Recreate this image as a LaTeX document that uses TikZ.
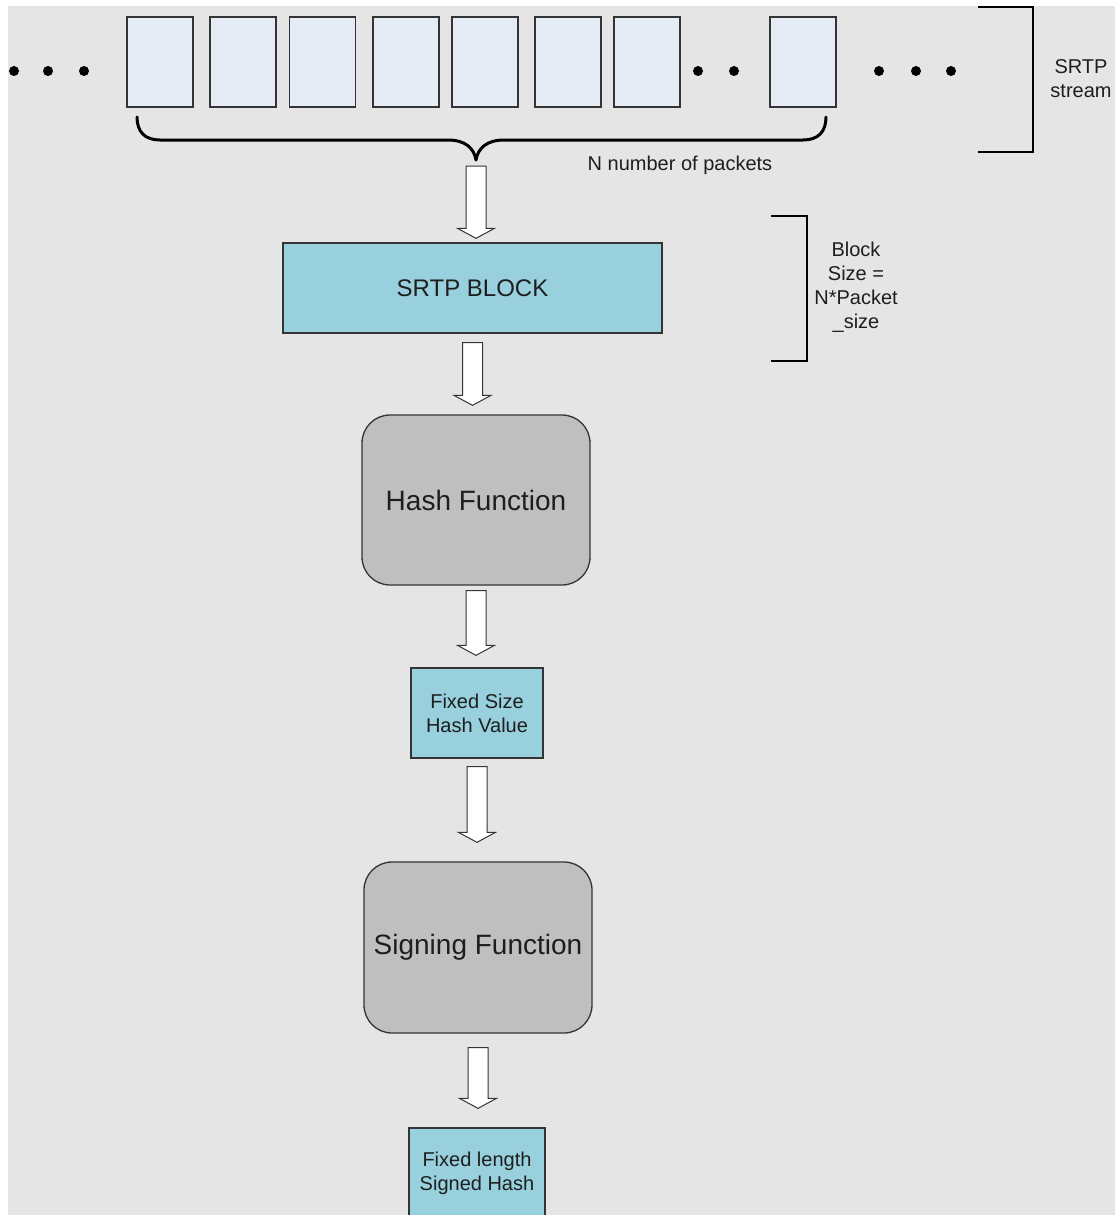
\documentclass[tikz,border=0pt]{standalone}
\usepackage{fontspec}
\setmainfont{Liberation Sans}
\usetikzlibrary{calc}

\definecolor{canvasgrey}{RGB}{229,229,229}
\definecolor{packetfill}{RGB}{229,236,246}
\definecolor{blockblue}{RGB}{152,208,222}
\definecolor{funcgrey}{RGB}{191,191,191}
\definecolor{edgegrey}{RGB}{52,52,52}
\definecolor{inktext}{RGB}{30,30,30}

\tikzset{
  packet/.style={draw=edgegrey, fill=packetfill, line width=1.6pt,
    minimum width=66pt, minimum height=90pt, inner sep=0pt},
  dot/.style={circle, fill=black, minimum size=10pt, inner sep=0pt},
  bluebox/.style={draw=edgegrey, fill=blockblue, line width=1.3pt,
    inner sep=0pt, align=center, text=inktext},
  funcbox/.style={draw=edgegrey, fill=funcgrey, line width=1.3pt,
    rounded corners=28pt, inner sep=0pt, align=center, text=inktext,
    minimum width=228pt, minimum height=170pt,
    font=\fontsize{28}{32}\selectfont},
  smalltext/.style={text=inktext, align=center, inner sep=0pt,
    font=\fontsize{20}{24}\selectfont},
  flowarrow/.style={draw=edgegrey, fill=white, line width=1pt, line join=miter},
  bracketline/.style={draw=black, line width=2.5pt},
  braceline/.style={draw=black, line width=3pt, line cap=round},
}

% hollow block arrow from the first point down to the tip at the second
\newcommand\flowarrow[2]{%
  \draw[flowarrow] let \p1=(#1), \p2=(#2) in
    (\x1-10pt,\y1) -- (\x1+10pt,\y1) -- (\x1+10pt,\y2+10pt)
    -- (\x1+18.5pt,\y2+10pt) -- (\x1,\y2) -- (\x1-18.5pt,\y2+10pt)
    -- (\x1-10pt,\y2+10pt) -- cycle;}

\begin{document}
\begin{tikzpicture}[x=1pt, y=-1pt]
  \useasboundingbox (0,0) rectangle (1115,1215);
  \fill[canvasgrey] (8,6) rectangle (1115,1215);

  % packets of the SRTP stream
  \node[packet] (p1) at (160,62) {};
  \node[packet] (p2) at (243,62) {};
  \node[packet] (p3) at (322.5,62) {};
  \node[packet] (p4) at (406,62) {};
  \node[packet] (p5) at (485,62) {};
  \node[packet] (p6) at (568,62) {};
  \node[packet] (p7) at (647,62) {};
  \node[packet] (p8) at (803,62) {};

  % ellipses between and around the packets
  \node[dot] (l1) at (14,71) {};
  \node[dot] (l2) at (48,71) {};
  \node[dot] (l3) at (84,71) {};
  \node[dot] (m1) at (698,71) {};
  \node[dot] (m2) at (734,71) {};
  \node[dot] (r1) at (879,71) {};
  \node[dot] (r2) at (916,71) {};
  \node[dot] (r3) at (951,71) {};

  % brace under the N packets
  \coordinate (braceL) at (137,117);
  \coordinate (braceR) at (826,117);
  \coordinate (braceTip) at (476,160);
  \draw[braceline] (braceL) .. controls (137,132) and (145,140) .. (160,140)
    -- (448,140) .. controls (465,140) and (474,148) .. (braceTip);
  \draw[braceline] (braceR) .. controls (826,132) and (818,140) .. (803,140)
    -- (504,140) .. controls (487,140) and (478,148) .. (braceTip);
  \node[smalltext] (nlabel) at (680,165) {N number of packets};

  % SRTP stream bracket
  \coordinate (sbTop) at (978,7);
  \coordinate (sbBot) at (978,152);
  \draw[bracketline] (sbTop) -- (1033,7) -- (1033,152) -- (sbBot);
  \node[smalltext] (slabel) at (1081,79) {SRTP\\stream};

  % processing chain
  \node[bluebox, minimum width=379pt, minimum height=90pt,
        font=\fontsize{24}{28}\selectfont] (srtp) at (472.5,288) {SRTP BLOCK};
  \node[funcbox] (hash) at (476,500) {Hash Function};
  \node[bluebox, minimum width=132pt, minimum height=90pt,
        font=\fontsize{20}{24}\selectfont] (fixed) at (477,713) {Fixed Size\\Hash Value};
  \node[funcbox, minimum height=171pt] (sign) at (478,947.5) {Signing Function};
  \node[bluebox, minimum width=136pt, minimum height=90pt,
        font=\fontsize{20}{24}\selectfont] (signed) at (477,1173) {Fixed length\\Signed Hash};

  % block size bracket
  \coordinate (bbTop) at (771,216);
  \coordinate (bbBot) at (771,361);
  \draw[bracketline] (bbTop) -- (807,216) -- (807,361) -- (bbBot);
  \node[smalltext] (blabel) at (856,287) {Block\\Size =\\N*Packet\\\_size};

  % arrows between the stages
  \flowarrow{[yshift=-6pt]braceTip}{[yshift=4pt]srtp.north}
  \flowarrow{[yshift=-9pt]srtp.south}{[yshift=9pt]hash.north}
  \flowarrow{[yshift=-5pt]hash.south}{[yshift=12pt]fixed.north}
  \flowarrow{[yshift=-8pt]fixed.south}{[yshift=19pt]sign.north}
  \flowarrow{[yshift=-14pt]sign.south}{[yshift=19pt]signed.north}
\end{tikzpicture}
\end{document}
